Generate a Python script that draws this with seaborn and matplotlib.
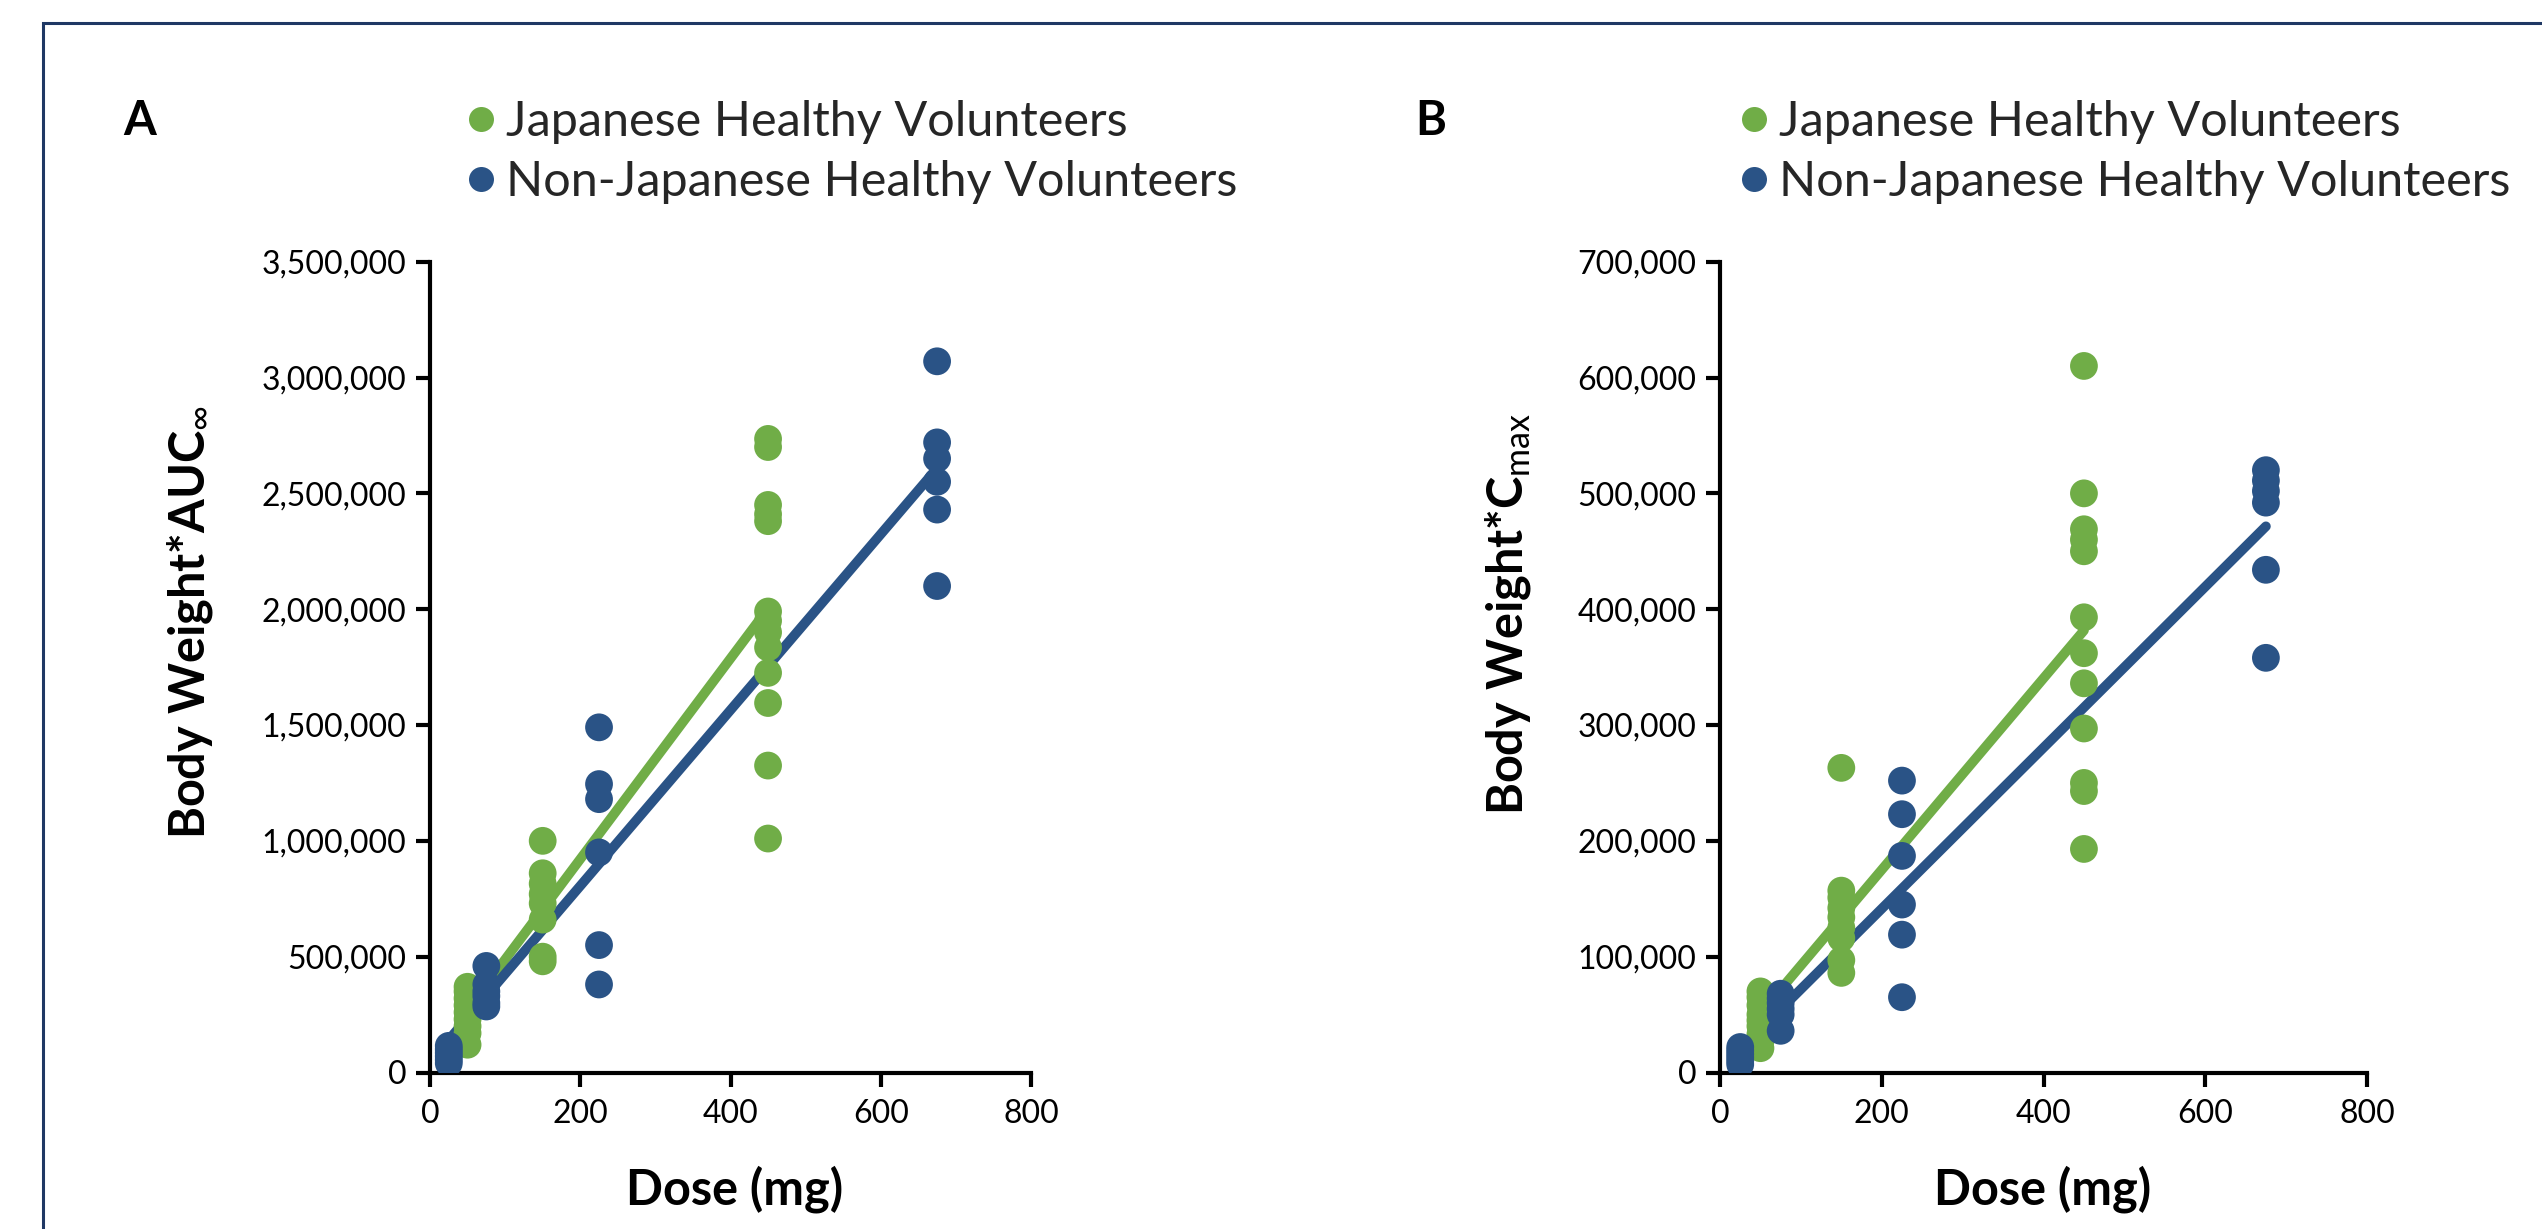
import numpy as np
import pandas as pd
import matplotlib
matplotlib.use("Agg")
import matplotlib.pyplot as plt
import seaborn as sns
from matplotlib.lines import Line2D
from matplotlib.patches import Rectangle
from matplotlib.ticker import FixedLocator, FuncFormatter

# ---------------- data ----------------
groups = ["Japanese Healthy Volunteers", "Non-Japanese Healthy Volunteers"]
colors = ["#70AD47", "#2A5386"]

# Panel A: Body Weight * AUCinf, by dose (mg)
auc_jp = {
    50: [120000, 170000, 200000, 230000, 260000, 290000, 320000, 350000, 370000],
    150: [1000000, 860000, 815000, 770000, 730000, 660000, 500000, 480000],
    450: [2735000, 2700000, 2450000, 2410000, 2380000, 1990000, 1950000, 1900000,
          1835000, 1725000, 1595000, 1325000, 1010000],
}
auc_nj = {
    25: [40000, 55000, 70000, 85000, 100000, 115000],
    75: [460000, 380000, 350000, 330000, 300000, 285000],
    225: [1490000, 1245000, 1180000, 950000, 550000, 380000],
    675: [3070000, 2720000, 2650000, 2550000, 2430000, 2100000],
}

# Panel B: Body Weight * Cmax, by dose (mg)
cmax_jp = {
    50: [70000, 65000, 58000, 50000, 45000, 40000, 33000, 27000, 21000],
    150: [263000, 157000, 151000, 142000, 134000, 125000, 116000, 97000, 86000],
    450: [610000, 500000, 469000, 460000, 450000, 393000, 362000, 336000, 297000,
          250000, 243000, 193000],
}
cmax_nj = {
    25: [7000, 10000, 13000, 16000, 19000, 22000],
    75: [68000, 64000, 60000, 55000, 50000, 36000],
    225: [252000, 223000, 187000, 145000, 119000, 65000],
    675: [520000, 511000, 502000, 492000, 434000, 358000],
}

x_ticks = [0, 200, 400, 600, 800]
auc_ticks = [0, 500000, 1000000, 1500000, 2000000, 2500000, 3000000, 3500000]
cmax_ticks = [0, 100000, 200000, 300000, 400000, 500000, 600000, 700000]

auc_label = r"Body Weight*AUC$_{\infty}$"
cmax_label = r"Body Weight*C$_{\mathrm{max}}$"
x_label = "Dose (mg)"


def to_frame(jp, nj):
    rows = []
    for grp, d in ((groups[0], jp), (groups[1], nj)):
        for dose, vals in d.items():
            for v in vals:
                rows.append((grp, dose, v))
    return pd.DataFrame(rows, columns=["group", "dose", "value"])


# ---------------- style ----------------
sns.set_theme(style="ticks")
plt.rcParams["font.family"] = ["Lato", "DejaVu Sans"]
plt.rcParams["mathtext.fontset"] = "custom"
plt.rcParams["mathtext.rm"] = "Lato"
plt.rcParams["mathtext.it"] = "Lato:italic"
plt.rcParams["mathtext.bf"] = "Lato:bold"

W, H = 2542, 1229
fig = plt.figure(figsize=(W / 100, H / 100), dpi=100)
fig.patch.set_facecolor("white")

# frame around the figure (partly cropped in the reference)
fig.patches.append(Rectangle((43 / W, -0.2), 1.5, 1.2 - 23 / H,
                             transform=fig.transFigure, fill=False,
                             edgecolor="#1F3864", lw=2.2, zorder=0))

axA = fig.add_axes([430 / W, (H - 1072.5) / H, 601 / W, 810.8 / H])
axB = fig.add_axes([1720 / W, (H - 1072.5) / H, 647 / W, 810.8 / H])


def draw_panel(ax, jp, nj, yticks, ylabel, ylab_xy, xlab_x):
    df = to_frame(jp, nj)
    for grp, col in zip(groups, colors):
        sub = df[df["group"] == grp]
        sns.regplot(data=sub, x="dose", y="value", scatter=False, ci=None,
                    truncate=True, color=col, ax=ax,
                    line_kws=dict(lw=7, solid_capstyle="round", zorder=1))
    sns.scatterplot(data=df, x="dose", y="value", hue="group",
                    hue_order=groups, palette=colors, s=400, linewidth=0,
                    edgecolor="none", legend=False, ax=ax, zorder=3)
    ax.set_xlim(x_ticks[0], x_ticks[-1])
    ax.set_ylim(yticks[0], yticks[-1])
    ax.xaxis.set_major_locator(FixedLocator(x_ticks))
    ax.yaxis.set_major_locator(FixedLocator(yticks))
    ax.yaxis.set_major_formatter(FuncFormatter(lambda v, p: f"{v:,.0f}"))
    for s in ("top", "right"):
        ax.spines[s].set_visible(False)
    for s in ("left", "bottom"):
        ax.spines[s].set_linewidth(3)
        ax.spines[s].set_color("black")
    ax.tick_params(axis="both", direction="out", length=10, width=3,
                   labelsize=23, color="black", labelcolor="black")
    ax.tick_params(axis="x", pad=9)
    ax.tick_params(axis="y", pad=7)
    ax.set_xlabel(x_label, fontsize=35, fontweight="bold", color="black")
    ax.xaxis.label.set_va("baseline")
    ax.xaxis.set_label_coords(xlab_x, -0.163)
    ax.set_ylabel(ylabel, fontsize=35, fontweight="bold", color="black")
    lab = ax.yaxis.label
    lab.set_rotation_mode("default")
    lab.set_va("center")
    lab.set_ha("center")
    ax.yaxis.set_label_coords(*ylab_xy)
    ax.set_facecolor("white")


draw_panel(axA, auc_jp, auc_nj, auc_ticks, auc_label, (-0.399, 0.556), 0.507)
draw_panel(axB, cmax_jp, cmax_nj, cmax_ticks, cmax_label, (-0.328, 0.566), 0.499)

# panel letters
fig.text(123 / W, 1 - 135 / H, "A", fontsize=34, fontweight="bold",
         ha="left", va="baseline", color="black")
fig.text(1415 / W, 1 - 135 / H, "B", fontsize=34, fontweight="bold",
         ha="left", va="baseline", color="black")

# legends
handles = [Line2D([], [], ls="", marker="o", markersize=18, color=c,
                  markeredgecolor="none") for c in colors]
for lx in (468 / W, 1741 / W):
    fig.legend(handles=handles, labels=groups, loc="center left",
               bbox_to_anchor=(lx, 1 - 152 / H), frameon=False,
               fontsize=35, handlelength=0.55, handletextpad=0.23,
               labelspacing=0.345, borderpad=0, borderaxespad=0)

fig.savefig("out.png", dpi=100, facecolor="white")
